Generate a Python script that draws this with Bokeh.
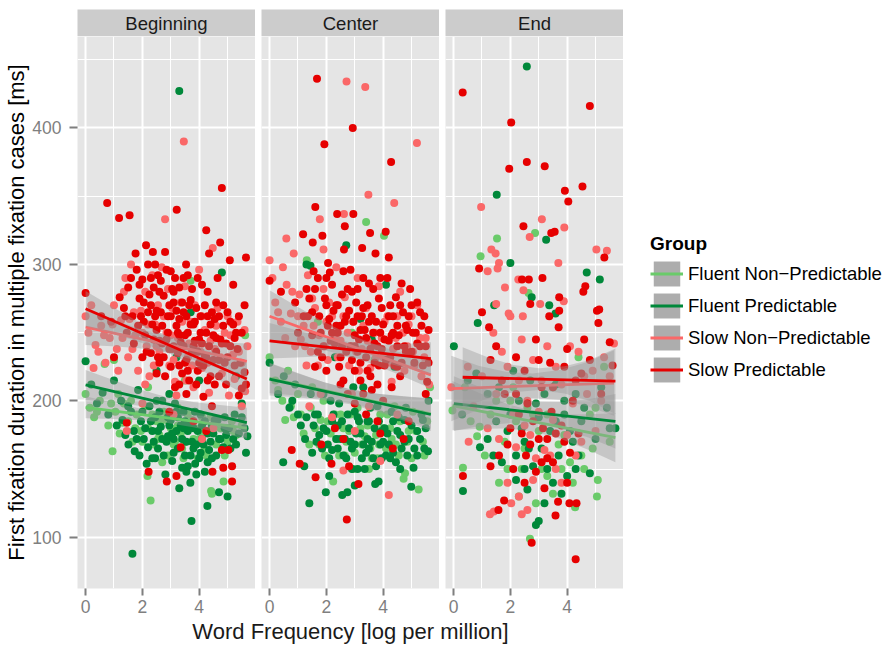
from bokeh.plotting import figure
from bokeh.models import Range1d, FixedTicker, Legend, LegendItem
from bokeh.core.properties import value
from bokeh.layouts import row, column
from bokeh.embed import file_html
from bokeh.resources import INLINE

FONT = "Liberation Sans"

panel_names = ["Beginning", "Center", "End"]
group_names = ["Fluent Non\u2212Predictable", "Fluent Predictable",
               "Slow Non\u2212Predictable", "Slow Predictable"]
group_colors = ["#6ACB6A", "#00883A", "#FA6868", "#E60000"]

x_major = [0, 2, 4]
x_minor = [1, 3, 5]
y_major = [100, 200, 300, 400]
y_minor = [50, 150, 250, 350, 450]
x_limits = (-0.285, 5.985)
y_limits = (62.5, 467)

x_title = "Word Frequency [log per million]"
y_title = "First fixation duration in multiple fixation cases [ms]"
legend_title = "Group"

# ---------------- points (x = log frequency, y = ms) ----------------
beg_fnp = [(0.0,205),(0.15,195),(0.3,188),(0.5,200),(0.67,227),(0.8,182),(0.95,163),(1.05,192),(1.2,176),
           (1.35,198),(1.5,185),(1.65,170),(1.8,190),(1.95,178),(2.1,196),(2.18,145),(2.29,127),(2.4,168),
           (2.5,185),(2.6,175),(2.75,192),(2.9,160),(3.0,180),(3.15,170),(3.25,195),(3.4,165),(3.55,182),
           (3.7,288),(3.8,172),(3.95,158),(4.1,188),(4.2,165),(4.35,178),(4.42,134),(4.45,132),(4.6,168),
           (4.75,180),(4.86,141),(5.0,170),(5.15,185),(5.3,175),(5.5,182),(5.62,248),(2.2,210),(3.5,215),
           (1.0,230),(2.2,180),(2.55,172),(2.85,186),(3.1,168),(3.35,176),(3.6,190),(3.85,180),(4.0,172),
           (4.25,160),(4.5,182),(2.7,155),(3.45,158),(1.6,200),(1.15,205),
           (0.4,192),(0.9,198),(1.3,184),(1.75,180),(2.0,170),(2.35,190),(2.65,185),(2.95,174),(3.25,182),
           (3.5,170),(3.75,186),(4.15,176),(4.4,188),(4.9,160),(5.2,178)]
beg_fp = [(0.0,229),(0.2,212),(0.4,198),(0.6,206),(0.8,190),(1.0,215),(1.1,182),(1.25,200),(1.4,175),
          (1.51,168),(1.6,192),(1.73,163),(1.85,208),(1.95,185),(2.05,172),(2.15,154),(2.25,196),(2.35,178),
          (2.45,188),(2.55,165),(2.65,181),(2.7,200),(2.81,146),(2.9,174),(3.0,186),(3.1,162),(3.2,178),
          (3.3,136),(3.3,427),(3.4,151),(3.45,192),(3.55,170),(3.65,182),(3.69,140),(3.73,112),(3.8,165),
          (3.86,154),(3.9,146),(3.95,178),(4.05,190),(4.15,168),(4.29,123),(4.3,176),(4.45,158),(4.55,186),
          (4.7,133),(4.75,172),(4.8,294),(4.9,180),(5.0,130),(5.1,165),(5.25,190),(5.4,176),(5.5,198),
          (5.65,162),(5.7,174),(1.65,88),(3.7,265),(2.5,222),(4.0,215),(3.2,232),(5.3,218),
          (2.3,185),(2.6,192),(2.85,170),(3.05,176),(3.25,188),(3.5,160),(3.6,178),(3.75,170),(4.0,158),
          (4.1,182),(4.4,170),(4.6,160),(4.95,175),(3.15,198),(2.95,205),(4.2,148),(2.45,158),(3.35,182),
          (1.3,186),(1.7,178),(1.9,160),(2.0,192),(2.1,180),(2.4,170),(2.55,178),(2.75,160),(2.95,182),
          (3.1,172),(3.25,165),(3.4,172),(3.5,185),(3.6,152),(3.8,180),(3.9,168),(4.05,162),(4.2,185),
          (4.35,164),(4.5,176),(4.65,186),(4.85,166),(5.05,180),(5.2,172),(5.5,188),
          (1.5,196),(1.8,172),(2.2,166),(2.35,158),(2.7,172),(2.9,188),(3.05,156),(3.2,192),(3.45,180),
          (3.7,160),(3.85,192),(4.1,172),(4.3,155),(4.45,182),(4.7,172),(4.9,188),(5.3,168),(5.6,180),
          (3.55,148),(2.5,200)]
beg_snp = [(0.0,262),(0.1,250),(0.28,224),(0.35,241),(0.55,255),(0.7,228),(0.85,246),(1.0,270),(1.1,238),
           (1.25,259),(1.4,290),(1.5,232),(1.6,300),(1.75,248),(1.85,222),(1.95,266),(2.1,280),(2.15,240),
           (2.25,218),(2.35,292),(2.45,256),(2.6,236),(2.68,298),(2.8,333),(2.85,250),(2.95,226),(3.05,268),
           (3.15,214),(3.25,246),(3.46,390),(3.5,284),(3.6,232),(3.7,258),(3.8,210),(3.9,240),(4.0,296),
           (4.1,224),(4.2,252),(4.35,206),(4.48,312),(4.55,238),(4.65,268),(4.8,220),(4.9,250),(5.05,204),
           (5.2,234),(5.35,258),(5.5,228),(5.62,207),(5.7,240),(1.45,178),(4.5,180),(3.1,190),(2.0,198),
           (4.1,172),(5.5,196),(1.3,246),(1.55,260),(1.65,238),(2.0,250),(2.4,226),(2.55,270),(2.75,262),
           (3.0,248),(3.35,272),(3.65,242),(3.75,226),(4.1,262),(4.3,228),(4.6,255),(5.1,248),(5.4,236),
           (2.1,212),(3.2,204),
           (0.2,270),(0.45,236),(0.65,248),(0.95,256),(1.15,222),(1.35,280),(1.7,265),(2.2,256),(2.5,240),
           (2.9,282),(3.1,230),(3.4,258),(3.55,215),(3.85,270),(4.05,236),(4.4,244),(4.75,232),(5.0,262),
           (5.25,216),(5.6,252)]
beg_sp = [(0.0,279),(0.76,345),(1.18,334),(1.55,336),(3.21,340),(4.8,356),(4.25,325),(4.74,316),(5.65,305),
          (5.08,303),(2.13,314),(2.37,309),(2.8,309),(1.76,308),(3.54,300),(4.35,308),(5.2,285),
          (1.2,276),(1.35,268),(1.5,283),(1.65,262),(1.8,296),(1.9,275),(2.0,289),(2.05,258),(2.2,300),
          (2.3,270),(2.4,283),(2.5,252),(2.55,292),(2.65,265),(2.75,277),(2.85,245),(2.9,262),(3.0,295),
          (3.05,238),(3.1,272),(3.2,255),(3.3,283),(3.35,243),(3.45,265),(3.5,228),(3.6,250),(3.7,274),
          (3.75,236),(3.85,258),(3.95,222),(4.0,245),(4.1,285),(4.2,233),(4.3,262),(4.4,218),(4.5,248),
          (4.6,272),(4.7,230),(4.85,255),(4.95,212),(5.1,240),(5.25,226),(5.4,262),(5.5,209),(5.6,221),
          (2.6,228),(2.8,218),(3.15,210),(3.4,220),(3.55,205),(3.9,212),(4.15,203),(4.45,196),(2.3,235),
          (1.7,242),(1.45,250),(0.9,258),(0.55,262),(1.0,232),(3.35,166),(5.03,164),(4.8,164),(1.45,184),
          (5.4,204),(5.65,212),(2.22,148),(2.86,141),(3.2,145),(4.47,148),(4.85,151),(5.16,152),(5.16,141),
          (3.8,185),(2.95,192),(4.25,178),(2.4,245),(2.55,232),(2.7,255),(2.95,270),(3.0,225),(3.25,235),
          (3.3,260),(3.5,248),(3.65,215),(3.8,240),(4.0,228),(4.05,262),(4.25,250),(4.3,215),(4.55,260),
          (4.6,236),(4.75,245),(4.9,228),(5.0,265),(5.3,250),(3.1,280),(2.2,265),(1.85,255),(3.6,292),
          (2.45,300),(4.65,290),
          (1.6,290),(1.95,262),(2.1,248),(2.25,278),(2.35,256),(2.5,266),(2.6,244),(2.65,288),(2.75,232),
          (2.9,250),(3.0,262),(3.1,240),(3.15,290),(3.25,250),(3.3,226),(3.4,272),(3.45,240),(3.55,262),
          (3.6,222),(3.7,256),(3.75,282),(3.85,244),(3.9,268),(3.95,236),(4.05,250),(4.15,226),(4.2,270),
          (4.35,240),(4.4,256),(4.5,230),(4.55,212),(4.7,262),(4.8,242),(5.0,232),(5.2,256),(5.35,238),
          (5.5,250),(5.6,270),(2.0,232),(1.4,262),
          (1.9,285),(2.05,272),(2.15,236),(2.3,290),(2.45,262),(2.6,280),(2.7,242),(2.85,296),(2.95,238),
          (3.05,282),(3.2,266),(3.3,248),(3.45,290),(3.55,230),(3.65,270),(3.8,256),(3.95,290),(4.1,242),
          (4.25,232),(4.3,280),(4.45,265),(4.6,246),(4.7,218),(4.85,270),(4.95,242),(5.1,258),(5.25,246),
          (5.45,228),(3.3,212),(2.5,220)]

cen_fnp = [(0.0,232),(0.2,215),(0.45,200),(0.65,222),(0.85,188),(1.0,205),(1.2,176),(1.31,303),(1.45,195),
           (1.6,180),(1.75,168),(1.9,200),(2.05,185),(2.24,141),(2.35,172),(2.5,190),(2.65,160),(2.8,178),
           (2.95,150),(3.1,195),(3.25,168),(3.4,331),(3.45,182),(3.6,158),(3.75,175),(3.9,190),(4.03,321),
           (4.1,165),(4.25,180),(4.4,196),(4.55,160),(4.72,143),(4.77,147),(4.9,178),(5.05,192),(5.25,135),
           (5.4,170),(5.55,185),(5.65,210),(2.9,250),(3.7,230),(1.7,258),(1.8,186),(2.15,176),(2.45,160),
           (2.7,170),(2.85,190),(3.0,162),(3.35,174),(3.55,165),(3.85,168),(4.0,180),(4.3,172),(4.6,185),
           (5.0,158),(1.5,210),(0.75,196),
           (0.3,208),(0.55,186),(1.1,190),(1.4,168),(1.95,160),(2.3,190),(2.6,180),(3.2,180),(3.5,150),
           (3.8,158),(4.15,190),(4.45,168),(4.85,170),(5.15,178),(5.45,160)]
cen_fp = [(0.0,228),(0.3,205),(0.48,155),(0.7,195),(0.9,212),(1.1,182),(1.22,152),(1.4,125),(1.44,299),
          (1.5,162),(1.6,190),(1.75,175),(1.9,205),(1.98,133),(2.05,168),(2.2,185),(2.35,172),(2.45,198),
          (2.56,131),(2.6,160),(2.7,314),(2.74,133),(2.8,180),(2.9,165),(3.0,192),(3.1,150),(3.2,176),
          (3.3,210),(3.4,162),(3.5,185),(3.6,170),(3.72,139),(3.8,196),(3.84,141),(3.95,158),(4.05,180),
          (4.2,168),(4.3,192),(4.45,155),(4.6,175),(4.75,186),(4.85,160),(4.99,137),(5.07,151),(5.2,178),
          (5.35,190),(5.45,165),(5.58,163),(5.6,200),(2.3,232),(3.6,245),(4.4,225),(1.3,300),(3.2,260),
          (4.1,285),(1.7,190),(2.0,178),(2.4,165),(2.55,185),(2.85,170),(3.05,176),(3.25,158),(3.45,172),
          (3.55,195),(3.7,180),(3.9,168),(4.15,176),(4.35,162),(4.55,188),(4.9,172),(5.1,165),(2.15,200),
          (2.95,210),(1.45,205),
          (0.5,218),(0.8,200),(1.0,190),(1.25,172),(1.55,182),(1.85,165),(2.1,158),(2.25,190),(2.5,172),
          (2.7,158),(2.75,190),(3.0,168),(3.15,185),(3.35,150),(3.5,165),(3.65,158),(3.85,185),(4.0,170),
          (4.25,158),(4.5,178),(4.65,165),(4.8,195),(5.0,182),(5.3,172),(5.5,180),
          (1.3,188),(1.65,170),(1.9,180),(2.2,164),(2.4,182),(2.65,172),(2.9,150),(3.1,188),(3.3,168),
          (3.45,185),(3.75,152),(3.95,178),(4.1,160),(4.35,185),(4.6,150),(4.75,170),(5.2,160),(5.4,186),
          (3.0,138),(2.1,145)]
cen_snp = [(2.71,434),(3.37,430),(5.19,389),(3.48,351),(4.39,345),(2.62,337),(1.77,333),(0.59,319),(1.9,311),
           (0.85,308),(0.0,303),(0.47,298),(0.2,272),(0.4,258),(0.6,285),(0.75,264),(0.9,240),(1.05,278),
           (1.2,255),(1.35,292),(1.45,236),(1.6,268),(1.75,248),(1.9,282),(2.05,230),(2.2,262),(2.35,298),
           (2.5,244),(2.65,276),(2.8,226),(2.95,258),(3.1,290),(3.25,238),(3.4,268),(3.55,224),(3.7,250),
           (3.85,284),(4.0,232),(4.15,262),(4.3,214),(4.45,246),(4.6,280),(4.75,222),(4.9,256),(5.05,236),
           (5.2,270),(5.35,218),(5.5,246),(5.62,212),(2.6,149),(4.2,131),(3.9,156),(1.4,196),(2.2,188),
           (3.0,178),(4.5,190),(1.8,205),(1.1,245),(1.3,226),(1.55,255),(1.95,240),(2.1,272),(2.4,232),
           (2.75,250),(3.05,236),(3.3,255),(3.6,240),(3.95,246),(4.25,228),(4.5,262),(4.85,240),(5.1,226),
           (5.45,232),(2.9,205),(3.5,196),
           (0.1,290),(0.3,265),(0.55,246),(0.8,280),(1.0,262),(1.25,240),(1.5,275),(1.7,226),(2.0,258),
           (2.3,246),(2.6,262),(2.85,240),(3.15,222),(3.45,244),(3.75,232),(4.05,258),(4.35,238),(4.7,250),
           (5.0,262),(5.3,246)]
cen_sp = [(1.67,436),(2.93,400),(1.93,388),(4.28,375),(1.61,342),(2.38,337),(2.95,337),(2.65,328),(4.09,324),
          (3.54,323),(1.18,322),(1.52,316),(1.86,321),(2.62,311),(3.26,312),(3.73,308),(4.2,305),(0.0,288),
          (2.06,301),(2.12,294),(1.3,282),(1.5,265),(1.7,290),(1.8,250),(1.95,275),(2.1,260),(2.2,285),
          (2.3,242),(2.4,270),(2.5,255),(2.6,295),(2.7,236),(2.8,266),(2.9,280),(3.0,248),(3.1,262),
          (3.2,228),(3.3,290),(3.35,252),(3.45,270),(3.55,238),(3.65,282),(3.75,258),(3.85,226),(3.95,268),
          (4.05,245),(4.15,290),(4.25,232),(4.35,262),(4.45,276),(4.55,248),(4.7,265),(4.8,236),(4.95,282),
          (5.05,250),(5.2,272),(5.3,240),(5.45,262),(5.55,214),(5.6,228),(2.0,222),(2.5,212),(2.75,205),
          (3.0,198),(3.2,215),(3.4,190),(3.6,208),(3.8,185),(4.0,200),(4.6,218),(5.5,205),(2.3,180),
          (2.6,172),(2.72,113),(1.62,144),(3.13,139),(0.78,164),(1.06,154),(2.18,154),(2.8,152),(4.34,165),
          (4.72,172),(1.82,168),(3.9,176),(4.9,185),(1.5,248),(1.7,236),(2.0,270),(2.15,244),(2.45,225),
          (2.55,278),(2.85,240),(3.05,272),(3.15,245),(3.4,232),(3.5,258),(3.7,242),(3.9,250),(4.1,230),
          (4.3,248),(4.5,240),(4.65,228),(4.85,252),(5.1,228),(5.35,255),(3.0,222),(3.3,205),(3.55,218),
          (2.35,255),(1.2,262),(0.9,272),
          (1.4,275),(1.55,295),(1.75,262),(1.9,240),(2.05,255),(2.25,266),(2.4,250),(2.55,240),(2.65,258),
          (2.75,282),(2.9,230),(2.95,258),(3.1,236),(3.2,252),(3.3,268),(3.45,222),(3.6,262),(3.7,228),
          (3.85,275),(3.95,238),(4.0,256),(4.2,244),(4.25,270),(4.4,226),(4.5,255),(4.6,270),(4.75,240),
          (4.9,262),(5.0,236),(5.15,250),(5.3,265),(5.5,240),(5.6,252),(1.0,250),(0.4,280),
          (1.35,262),(1.6,282),(1.85,232),(2.0,290),(2.2,250),(2.35,270),(2.5,232),(2.7,262),(2.85,296),
          (3.0,240),(3.1,282),(3.25,262),(3.4,246),(3.5,286),(3.65,250),(3.8,240),(3.9,290),(4.05,226),
          (4.2,262),(4.35,250),(4.5,225),(4.65,286),(4.8,255),(5.0,270),(5.2,242),(5.4,226),(2.6,215),
          (3.8,212),(4.3,210),(1.6,225)]

end_fnp = [(2.87,323),(1.53,319),(0.95,306),(2.64,279),(-0.04,193),(0.83,174),(0.92,181),(0.33,151),(2.69,99),
           (4.28,122),(5.05,130),(5.08,142),(1.3,190),(1.8,170),(2.2,185),(2.4,150),(3.0,178),(3.3,145),
           (3.7,168),(4.1,155),(4.6,150),(4.9,165),(1.6,140),(2.0,200),(3.5,210),(4.4,232),(5.3,225),
           (2.5,165),(2.8,190),(3.1,150),(3.9,175),(4.2,140),(1.1,160),(2.3,130),(4.8,190),(0.4,210),
           (0.6,185),(1.5,200),(2.1,210),(2.6,195),(3.3,190),(3.8,150),(4.5,160),(5.0,195),(5.5,170),
           (1.9,150),(2.9,125),(3.5,132)]
end_fp = [(2.58,445),(1.52,351),(3.26,318),(2.0,301),(4.69,294),(5.15,289),(2.75,276),(3.37,270),(1.43,270),
          (3.59,264),(0.85,257),(0.01,240),(0.5,215),(1.2,205),(2.1,222),(2.9,198),(3.6,212),(4.3,205),
          (5.4,195),(5.7,180),(0.93,166),(0.33,134),(1.2,172),(1.5,185),(1.9,178),(2.2,160),(2.5,170),
          (2.8,152),(3.1,165),(3.4,178),(3.7,160),(4.0,145),(4.2,170),(2.9,109),(3.0,112),(4.8,147),
          (1.7,155),(2.6,135),(3.5,140),(4.5,185),(3.9,190),(2.0,190),(2.4,180),(2.65,165),(3.0,188),
          (3.3,150),(3.6,185),(4.1,178),(4.4,160),(5.0,172),(5.5,180),(1.4,160),(2.2,142),(3.8,132),
          (0.3,190),(0.8,220),(1.6,210),(2.3,200),(2.7,215),(3.2,205),(3.9,200),(4.6,195),(5.2,210),
          (2.5,150),(3.2,125),(4.3,150)]
end_snp = [(0.97,342),(3.11,333),(3.9,327),(2.68,320),(1.33,311),(1.48,308),(5.03,311),(5.4,310),(1.6,301),
           (1.55,297),(1.2,295),(3.69,301),(2.28,289),(1.81,283),(2.46,281),(3.88,273),(3.05,271),(1.5,271),
           (1.94,264),(2.0,262),(2.44,262),(5.65,242),(-0.08,210),(0.5,225),(1.0,218),(1.7,236),(2.3,215),
           (2.8,230),(3.3,240),(3.8,212),(4.4,236),(4.9,222),(5.3,232),(0.53,170),(1.2,180),(1.6,172),
           (2.2,166),(2.5,182),(2.9,158),(3.2,164),(3.6,150),(4.0,175),(4.3,160),(1.9,140),(2.3,130),
           (2.03,125),(1.28,117),(1.42,119),(2.4,117),(2.6,120),(5.0,178),(1.5,205),(2.1,190),(2.6,200),
           (3.0,192),(3.5,186),(4.2,198),(4.7,205),(5.5,218),(2.7,175),(3.4,160),
           (0.7,196),(1.4,250),(1.9,225),(2.4,245),(3.1,215),(3.6,225),(4.1,240),(4.6,218),(5.2,200),
           (2.8,142),(3.8,140),(4.5,170)]
end_sp = [(0.32,426),(4.8,416),(2.03,404),(1.96,370),(2.58,375),(3.21,372),(3.92,354),(4.04,346),(4.54,357),
          (2.46,328),(3.44,323),(3.56,324),(5.31,305),(0.9,297),(2.41,289),(2.65,289),(3.13,290),(4.64,284),
          (4.57,280),(3.72,276),(2.7,271),(5.13,267),(5.05,266),(3.72,266),(1.0,265),(3.37,262),(5.1,257),
          (1.25,254),(5.5,243),(1.5,240),(2.2,232),(2.9,245),(3.4,228),(4.0,238),(4.5,220),(5.6,226),
          (1.8,205),(2.6,198),(3.1,210),(4.2,200),(2.4,176),(2.7,168),(3.0,172),(3.3,158),(3.6,176),
          (3.9,170),(1.6,160),(2.1,150),(2.9,148),(3.5,155),(4.1,162),(1.3,152),(2.5,140),(3.2,136),
          (0.33,145),(1.58,120),(1.78,127),(3.68,126),(4.08,125),(4.33,125),(3.59,116),(2.75,96),(4.3,84),
          (2.0,180),(2.3,190),(2.8,185),(3.15,180),(3.45,192),(3.8,182),(4.4,176),(2.55,160),(3.3,172),
          (4.6,245),(1.3,230),(3.7,254),
          (1.7,215),(2.2,205),(2.5,222),(3.0,230),(3.5,210),(3.9,225),(4.3,215),(4.8,230),(5.2,205),
          (1.9,168),(3.1,155),(4.0,140)]

# ---------------- fitted lines (end points) and confidence bands ----------------
beg_band_x = [0.0, 0.95, 1.89, 2.84, 3.79, 4.73, 5.68]
beg_fnp_line = ([0.0, 5.68], [195.3, 180.0])
beg_fnp_lo = [187.3, 186.7, 185.8, 183.9, 180.7, 176.6, 172.0]
beg_fnp_hi = [203.3, 198.7, 194.6, 191.3, 189.5, 188.6, 188.0]
beg_fp_line = ([0.0, 5.68], [211.7, 184.0])
beg_fp_lo = [200.7, 198.8, 196.5, 192.9, 187.2, 180.3, 173.0]
beg_fp_hi = [222.7, 215.4, 208.5, 202.9, 199.2, 196.9, 195.0]
beg_snp_line = ([0.0, 5.68], [254.0, 229.0])
beg_snp_lo = [241.0, 240.0, 238.5, 235.5, 230.1, 223.4, 216.0]
beg_snp_hi = [267.0, 259.6, 252.9, 247.5, 244.5, 243.0, 242.0]
beg_sp_line = ([0.0, 5.68], [267.5, 216.0])
beg_sp_lo = [254.5, 249.1, 243.2, 235.8, 225.9, 214.8, 204.0]
beg_sp_hi = [280.5, 268.7, 257.6, 247.8, 240.3, 234.4, 228.0]

cen_band_x = [0.0, 0.95, 1.89, 2.84, 3.79, 4.73, 5.68]
cen_fnp_line = ([0.0, 5.68], [216.5, 190.5])
cen_fnp_lo = [205.5, 203.9, 201.8, 198.5, 193.2, 186.6, 179.5]
cen_fnp_hi = [227.5, 220.5, 213.8, 208.5, 205.2, 203.2, 201.5]
cen_fp_line = ([0.0, 5.68], [216.0, 190.0])
cen_fp_lo = [204.0, 202.7, 200.7, 197.5, 192.1, 185.4, 178.0]
cen_fp_hi = [228.0, 220.7, 213.9, 208.5, 205.3, 203.4, 202.0]
cen_snp_line = ([0.0, 5.68], [262.0, 219.0])
cen_snp_lo = [243.0, 240.3, 237.2, 232.5, 225.8, 217.7, 209.0]
cen_snp_hi = [281.0, 269.3, 258.2, 248.5, 240.8, 234.7, 229.0]
cen_sp_line = ([0.0, 5.68], [244.0, 231.0])
cen_sp_lo = [231.0, 231.8, 232.7, 232.0, 229.3, 224.7, 219.0]
cen_sp_hi = [257.0, 251.8, 246.7, 243.0, 241.3, 241.7, 243.0]

end_fnp_band_x = [-0.04, 0.92, 1.87, 2.83, 3.79, 4.74, 5.70]
end_fnp_line = ([-0.04, 5.70], [196.5, 173.0])
end_fnp_lo = [178.5, 179.6, 179.8, 177.4, 172.0, 164.1, 155.0]
end_fnp_hi = [214.5, 205.6, 197.8, 192.4, 190.0, 190.1, 191.0]
end_fp_band_x = [0.01, 0.96, 1.91, 2.86, 3.80, 4.75, 5.70]
end_fp_line = ([0.01, 5.70], [198.0, 185.0])
end_fp_lo = [178.0, 181.8, 183.6, 183.5, 179.3, 173.2, 165.0]
end_fp_hi = [218.0, 209.8, 203.6, 199.5, 199.3, 201.2, 205.0]
end_snp_band_x = [-0.08, 0.875, 1.83, 2.785, 3.74, 4.695, 5.65]
end_snp_line = ([-0.08, 5.65], [209.0, 213.0])
end_snp_lo = [185.0, 193.7, 199.3, 202.0, 200.7, 196.3, 189.0]
end_snp_hi = [233.0, 225.7, 221.3, 220.0, 222.7, 228.3, 237.0]
end_sp_band_x = [0.32, 1.22, 2.11, 3.01, 3.91, 4.80, 5.70]
end_sp_line = ([0.32, 5.70], [217.3, 214.4])
end_sp_lo = [195.3, 201.8, 206.3, 207.9, 205.4, 199.9, 190.4]
end_sp_hi = [239.3, 231.8, 226.3, 223.9, 225.4, 229.9, 238.4]

panel_points = [
    [beg_fnp, beg_fp, beg_snp, beg_sp],
    [cen_fnp, cen_fp, cen_snp, cen_sp],
    [end_fnp, end_fp, end_snp, end_sp],
]
panel_fits = [
    [(beg_band_x, beg_fnp_lo, beg_fnp_hi, beg_fnp_line), (beg_band_x, beg_fp_lo, beg_fp_hi, beg_fp_line),
     (beg_band_x, beg_snp_lo, beg_snp_hi, beg_snp_line), (beg_band_x, beg_sp_lo, beg_sp_hi, beg_sp_line)],
    [(cen_band_x, cen_fnp_lo, cen_fnp_hi, cen_fnp_line), (cen_band_x, cen_fp_lo, cen_fp_hi, cen_fp_line),
     (cen_band_x, cen_snp_lo, cen_snp_hi, cen_snp_line), (cen_band_x, cen_sp_lo, cen_sp_hi, cen_sp_line)],
    [(end_fnp_band_x, end_fnp_lo, end_fnp_hi, end_fnp_line), (end_fp_band_x, end_fp_lo, end_fp_hi, end_fp_line),
     (end_snp_band_x, end_snp_lo, end_snp_hi, end_snp_line), (end_sp_band_x, end_sp_lo, end_sp_hi, end_sp_line)],
]

# ---------------- layout constants (pixels) ----------------
FRAME_W = 178
FRAME_H = 552
GAP = 6
LEFT = 77
STRIP_TOP = 9
STRIP_H = 27
BOTTOM = 31
XLAB_H = 31
TICK_GRAY = "#7F7F7F"
TOTAL_H = STRIP_TOP + STRIP_H + FRAME_H + BOTTOM + XLAB_H


def text_fig(width, left, height, top, txt, size, bg, ty):
    f = figure(width=width, height=height, x_range=Range1d(0, 1), y_range=Range1d(0, 1),
               output_backend="svg", toolbar_location=None,
               min_border_left=left, min_border_right=0, min_border_top=top, min_border_bottom=0,
               x_axis_location=None, y_axis_location=None,
               background_fill_color=bg, border_fill_color="white", outline_line_color=None)
    f.grid.visible = False
    f.text(x=[0.5], y=[ty], text=[txt], text_align="center", text_baseline="middle",
           text_font=value(FONT), text_font_size=size, text_color="#1A1A1A")
    return f


def make_panel(idx):
    first = idx == 0
    lb = LEFT if first else GAP
    p = figure(width=lb + FRAME_W, height=FRAME_H + BOTTOM,
               x_range=Range1d(*x_limits), y_range=Range1d(*y_limits),
               output_backend="svg", toolbar_location=None,
               min_border_left=lb, min_border_right=0, min_border_top=0, min_border_bottom=BOTTOM,
               y_axis_location="left" if first else None,
               background_fill_color="#E5E5E5", border_fill_color="white", outline_line_color=None)
    p.xgrid.ticker = FixedTicker(ticks=x_major, minor_ticks=x_minor)
    p.ygrid.ticker = FixedTicker(ticks=y_major, minor_ticks=y_minor)
    for g in (p.xgrid[0], p.ygrid[0]):
        g.grid_line_color = "white"
        g.grid_line_width = 2
        g.minor_grid_line_color = "white"
        g.minor_grid_line_width = 1
    xa = p.xaxis[0]
    xa.ticker = FixedTicker(ticks=x_major)
    xa.axis_line_color = None
    xa.major_tick_out = 7
    xa.major_tick_in = 0
    xa.major_tick_line_color = TICK_GRAY
    xa.major_tick_line_width = 2
    xa.minor_tick_line_color = None
    xa.major_label_standoff = 4
    xa.major_label_text_font = FONT
    xa.major_label_text_font_size = "17.5px"
    xa.major_label_text_color = TICK_GRAY
    if first:
        ya = p.yaxis[0]
        ya.ticker = FixedTicker(ticks=y_major)
        ya.axis_line_color = None
        ya.major_tick_out = 8
        ya.major_tick_in = 0
        ya.major_tick_line_color = TICK_GRAY
        ya.major_tick_line_width = 2
        ya.minor_tick_line_color = None
        ya.major_label_standoff = 8
        ya.major_label_text_font = FONT
        ya.major_label_text_font_size = "17.5px"
        ya.major_label_text_color = TICK_GRAY
        ya.axis_label = y_title
        ya.axis_label_text_font = FONT
        ya.axis_label_text_font_size = "22px"
        ya.axis_label_text_font_style = "normal"
        ya.axis_label_text_color = "black"
        ya.axis_label_standoff = 0
    for pts, c in zip(panel_points[idx], group_colors):
        p.scatter(x=[t[0] for t in pts], y=[t[1] for t in pts], size=8,
                  fill_color=c, line_color=None)
    for (bx, lo, hi, ln), c in zip(panel_fits[idx], group_colors):
        p.varea(x=bx, y1=lo, y2=hi, fill_color="#999999", fill_alpha=0.4)
        p.line(x=ln[0], y=ln[1], line_color=c, line_width=2.8)
    return p


strips = [text_fig((LEFT if i == 0 else GAP) + FRAME_W, LEFT if i == 0 else GAP,
                   STRIP_TOP + STRIP_H, STRIP_TOP, n, "18.5px", "#CCCCCC", 0.5)
          for i, n in enumerate(panel_names)]
panels = [make_panel(i) for i in range(3)]
xlab = text_fig(LEFT + 3 * FRAME_W + 2 * GAP, LEFT, XLAB_H, 0, x_title, "22px", "white", 0.6)

# legend (dummy renderers kept outside the legend figure's visible range)
lg = figure(width=262, height=TOTAL_H, x_range=Range1d(0, 1), y_range=Range1d(0, 1),
            output_backend="svg", toolbar_location=None, min_border=0,
            x_axis_location=None, y_axis_location=None, outline_line_color=None,
            background_fill_color="white", border_fill_color="white")
lg.grid.visible = False
items = []
for name, c in zip(group_names, group_colors):
    bg = lg.varea(x=[5, 6], y1=[5, 5], y2=[6, 6], fill_color="#BBBBBB")
    band = lg.varea(x=[5, 6], y1=[5, 5], y2=[6, 6], fill_color="#999999", fill_alpha=0.4)
    ln = lg.line(x=[5, 6], y=[5, 6], line_color=c, line_width=3)
    items.append(LegendItem(label=name, renderers=[bg, band, ln]))
legend = Legend(items=items, location=(27, TOTAL_H - 385), title=legend_title,
                title_text_font=FONT, title_text_font_size="19px", title_text_font_style="bold",
                title_text_color="black", title_standoff=3,
                label_text_font=FONT, label_text_font_size="18.5px", label_text_color="black",
                glyph_width=33, glyph_height=31, spacing=1, padding=0, margin=0, label_standoff=5,
                border_line_color=None, background_fill_alpha=0)
lg.add_layout(legend)

layout = row(column(row(*strips), row(*panels), xlab), lg)

open("out.html", "w").write(file_html(layout, INLINE))
